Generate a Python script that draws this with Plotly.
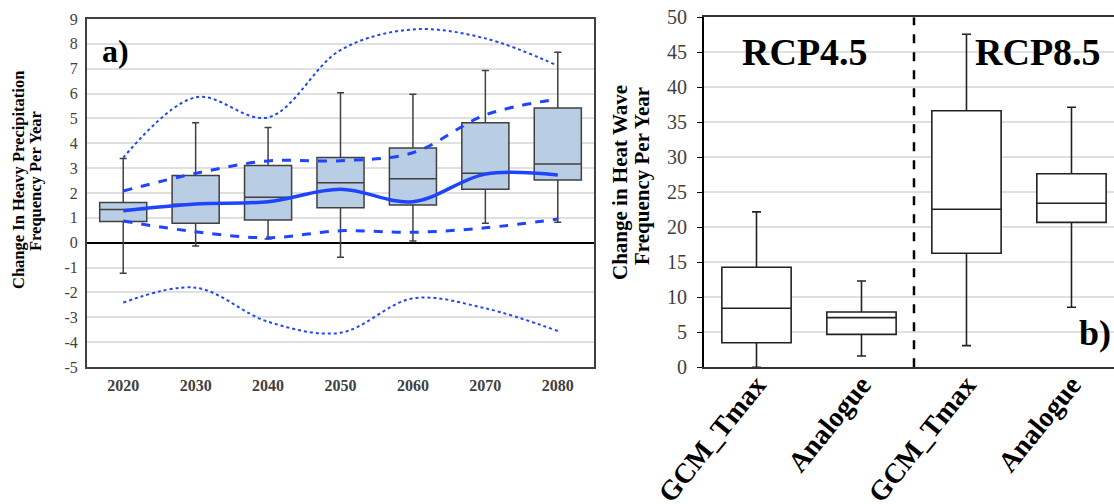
import plotly.graph_objects as go

# ---------- Panel a) data ----------
years = ["2020", "2030", "2040", "2050", "2060", "2070", "2080"]
a_low = [-1.23, -0.13, 0.15, -0.58, 0.07, 0.78, 0.82]
a_q1 = [0.85, 0.78, 0.91, 1.41, 1.52, 2.15, 2.52]
a_med = [1.34, 1.55, 1.83, 2.41, 2.57, 2.79, 3.17]
a_q3 = [1.62, 2.70, 3.11, 3.43, 3.81, 4.83, 5.42]
a_high = [3.39, 4.83, 4.64, 6.03, 5.97, 6.93, 7.66]

mean_line = [1.29, 1.56, 1.65, 2.15, 1.65, 2.76, 2.72]
dash_upper = [2.08, 2.79, 3.29, 3.30, 3.62, 5.14, 5.78]
dash_lower = [0.87, 0.44, 0.20, 0.48, 0.42, 0.60, 0.95]
dot_upper = [3.42, 5.85, 5.04, 7.75, 8.58, 8.22, 7.12]
dot_lower = [-2.41, -1.81, -3.18, -3.62, -2.24, -2.64, -3.55]

a_yticks = list(range(-5, 10))
a_yticklabels = [str(v) for v in a_yticks]

# ---------- Panel b) data ----------
b_pos = [0, 1, 2, 3]
b_labels = ["GCM_Tmax", "Analogue", "GCM_Tmax", "Analogue"]
b_low = [0.0, 1.61, 3.09, 8.57]
b_q1 = [3.51, 4.71, 16.29, 20.71]
b_med = [8.43, 7.09, 22.57, 23.43]
b_q3 = [14.29, 7.90, 36.66, 27.66]
b_high = [22.2, 12.33, 47.57, 37.14]
b_yticks = list(range(0, 55, 5))
scenario_split = 1.5

W, H = 1114, 504
def px(x):
    return x / W
def py(y):
    return 1 - y / H

SERIF = "Liberation Serif"
BLUE = "#1f45fc"

fig = go.Figure()

fig.add_trace(go.Box(
    x=years, q1=a_q1, median=a_med, q3=a_q3,
    lowerfence=a_low, upperfence=a_high,
    xaxis="x", yaxis="y", width=0.65, whiskerwidth=0.15,
    fillcolor="#b9cde5", line=dict(color="#404040", width=1.5),
    boxpoints=False, showlegend=False, hoverinfo="skip",
))

for vals, dash, width in [
    (dot_upper, "dot", 2), (dot_lower, "dot", 2),
    (dash_upper, "dash", 3), (dash_lower, "dash", 3),
    (mean_line, "solid", 3.5),
]:
    fig.add_trace(go.Scatter(
        x=years, y=vals, mode="lines", xaxis="x", yaxis="y",
        line=dict(color=BLUE, dash=dash, width=width, shape="spline", smoothing=1.0),
        showlegend=False, hoverinfo="skip",
    ))

fig.add_trace(go.Box(
    x=b_pos, q1=b_q1, median=b_med, q3=b_q3,
    lowerfence=b_low, upperfence=b_high,
    xaxis="x2", yaxis="y2", width=0.66, whiskerwidth=0.13,
    fillcolor="white", line=dict(color="#222222", width=1.6),
    boxpoints=False, showlegend=False, hoverinfo="skip",
))

fig.add_shape(type="line", xref="x2", yref="y2",
              x0=scenario_split, x1=scenario_split, y0=0, y1=50,
              line=dict(color="black", width=2.5, dash="dash"))

def label(text, x, y, size, angle=0, xanchor="center"):
    return dict(text=text, xref="paper", yref="paper", x=px(x), y=py(y),
                xanchor=xanchor, yanchor="middle", textangle=angle, showarrow=False,
                font=dict(family=SERIF, size=size, color="black", weight="bold"))

fig.update_layout(
    width=W, height=H, margin=dict(l=0, r=0, t=0, b=0, autoexpand=False),
    paper_bgcolor="white", plot_bgcolor="white",
    xaxis=dict(domain=[px(87), px(594)], type="category", range=[-0.5, 6.5], automargin=False,
               showgrid=False, showline=True, mirror=True, linecolor="#404040", linewidth=2,
               ticks="", ticklabelstandoff=3,
               tickfont=dict(family=SERIF, size=16, color="#404040", weight="bold")),
    yaxis=dict(domain=[py(367), py(19)], range=[-5, 9], tickvals=a_yticks, ticktext=a_yticklabels,
               automargin=False,
               showgrid=True, gridcolor="#e0e0e0", gridwidth=1.5,
               zeroline=True, zerolinecolor="black", zerolinewidth=1.5,
               showline=True, mirror=True, linecolor="#404040", linewidth=2,
               ticks="", ticklabelstandoff=4,
               tickfont=dict(family=SERIF, size=16, color="#404040")),
    xaxis2=dict(domain=[px(704), 1.0], range=[-0.5, 3.405], anchor="y2", automargin=False,
                tickvals=b_pos, ticktext=b_labels, tickangle=-51, ticklabelstandoff=-12,
                showgrid=False, showline=True, mirror=True, linecolor="#333333", linewidth=2,
                ticks="", tickfont=dict(family=SERIF, size=28, color="black", weight="bold")),
    yaxis2=dict(domain=[py(367.3), py(17.3)], range=[0, 50], tickvals=b_yticks, anchor="x2",
                automargin=False,
                showgrid=True, gridcolor="#e0e0e0", gridwidth=1.5, zeroline=False,
                showline=True, linecolor="black", linewidth=2,
                ticks="outside", ticklen=5, tickcolor="black", ticklabelstandoff=6,
                tickfont=dict(family=SERIF, size=20, color="#404040")),
    annotations=[
        label("Change In Heavy Precipitation", 18, 180, 16.5, -90),
        label("Frequency Per Year", 35, 181, 16.5, -90),
        label("a)", 100, 51, 32, xanchor="left"),
        label("Change in Heat Wave", 620, 183, 21, -90),
        label("Frequency Per Year", 642, 176, 21, -90),
        label("RCP4.5", 805, 52, 38),
        label("RCP8.5", 1038, 52, 38),
        label("b)", 1113, 333, 36, xanchor="right"),
    ],
)

fig.write_html("out.html")
